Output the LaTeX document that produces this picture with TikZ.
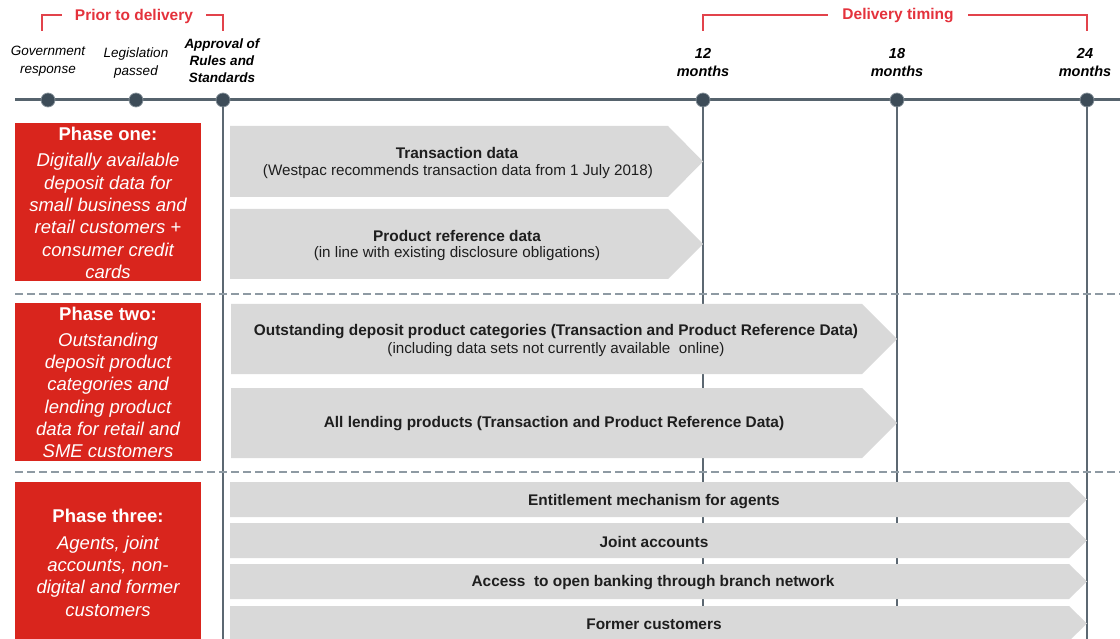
\documentclass[tikz,border=0pt]{standalone}
\usepackage{fontspec}
\setmainfont{Liberation Sans}

\definecolor{phasered}{HTML}{D9251D}
\definecolor{barfill}{HTML}{D9D9D9}
\definecolor{axisgray}{HTML}{56636D}
\definecolor{dotfill}{HTML}{3D4C58}
\definecolor{dotrim}{HTML}{8A959D}
\definecolor{gridgray}{HTML}{5C6872}
\definecolor{sepgray}{HTML}{8E9AA3}
\definecolor{bracketred}{HTML}{E2434B}
\definecolor{labelred}{HTML}{E4323C}
\definecolor{bartext}{HTML}{1E1E1E}

% chevron bar: name, left x, tip x, top y, bottom y, tip length
\newcommand{\chevbar}[6]{%
  \fill[barfill] (#2,#4) -- ({#3-#6},#4) -- (#3,{(#4+#5)/2}) -- ({#3-#6},#5) -- (#2,#5) -- cycle;
  \coordinate (#1) at ({(#2+#3-#6)/2},{(#4+#5)/2});}

\tikzset{
  axis/.style={draw=axisgray, line width=3pt},
  dot/.style={circle, fill=dotfill, draw=dotrim, line width=0.7pt, minimum size=14pt, inner sep=0pt},
  vline/.style={draw=gridgray, line width=1.4pt},
  sep/.style={draw=sepgray, line width=2pt, dash pattern=on 8pt off 4pt},
  bracket/.style={draw=bracketred, line width=1.3pt},
  bracketlabel/.style={text=labelred, font=\fontsize{15.5}{18}\selectfont\bfseries, inner sep=0pt},
  mslabel/.style={font=\fontsize{14.5}{18}\selectfont\bfseries\itshape, align=center, inner sep=0pt},
  steplabel/.style={font=\fontsize{13.5}{18}\selectfont\itshape, align=center, inner sep=0pt},
  approvlabel/.style={font=\fontsize{13.5}{17}\selectfont\bfseries\itshape, align=center, inner sep=0pt},
  phasebox/.style={fill=phasered, inner sep=0pt, minimum width=186pt, anchor=north west},
  phasetitle/.style={text=white, font=\fontsize{18.5}{22}\selectfont\bfseries, inner sep=0pt},
  phasebody/.style={text=white, font=\fontsize{18.5}{22.3}\selectfont\itshape, align=center, inner sep=0pt},
  bartitle/.style={text=bartext, font=\fontsize{15.4}{18}\selectfont\bfseries, inner sep=0pt},
  barnote/.style={text=bartext, font=\fontsize{15.2}{18}\selectfont, inner sep=0pt},
}

\begin{document}
\begin{tikzpicture}[x=1pt, y=-1pt]
\useasboundingbox (0,0) rectangle (1120,639);

% reference points
\coordinate (axisL) at (15,100);
\coordinate (axisR) at (1120,100);
\coordinate (bottom) at (0,639);

% timeline axis
\draw[axis] (axisL) -- (axisR);

% milestones
\node[dot] (gov) at (48,100) {};
\node[dot] (leg) at (136,100) {};
\node[dot] (appr) at (223,100) {};
\node[dot] (m12) at (703,100) {};
\node[dot] (m18) at (897,100) {};
\node[dot] (m24) at (1087,100) {};

% vertical grid lines
\draw[vline] (appr.south) -- (appr |- bottom);
\draw[vline] (m12.south) -- (m12 |- bottom);
\draw[vline] (m18.south) -- (m18 |- bottom);
\draw[vline] (m24.south) -- (m24 |- bottom);

% phase separators
\coordinate (sep1L) at (15,294);
\coordinate (sep1R) at (1120,294);
\coordinate (sep2L) at (15,472);
\coordinate (sep2R) at (1120,472);
\draw[sep] (sep1L) -- (sep1R);
\draw[sep] (sep2L) -- (sep2R);

% brackets
\coordinate (b1a) at (42,31);
\coordinate (b1b) at (42,15);
\coordinate (b1c) at (62,15);
\coordinate (b1d) at (206,15);
\draw[bracket] (b1a) -- (b1b) -- (b1c);
\draw[bracket] (b1d) -- (appr |- b1d) -- (appr |- b1a);
\node[bracketlabel] (prior) at (134,16) {Prior to delivery};

\coordinate (b2c) at (828,15);
\coordinate (b2d) at (968,15);
\draw[bracket] (m12 |- b1a) -- (m12 |- b1b) -- (b2c);
\draw[bracket] (b2d) -- (m24 |- b2d) -- (m24 |- b1a);
\node[bracketlabel] (deliv) at (898,16) {Delivery timing};

% milestone labels
\node[steplabel] (govlab) at (48,61) {Government\\response};
\node[steplabel] (leglab) at (136,63) {Legislation\\passed};
\node[approvlabel] (apprlab) at (222,61) {Approval of\\Rules and\\Standards};
\node[mslabel] (m12lab) at (703,63) {12\\months};
\node[mslabel] (m18lab) at (897,63) {18\\months};
\node[mslabel] (m24lab) at (1085,63) {24\\months};

% phase boxes
\node[phasebox, minimum height=158pt] (p1) at (15,123) {};
\node[phasebox, minimum height=158pt] (p2) at (15,303) {};
\node[phasebox, minimum height=157pt] (p3) at (15,482) {};

\node[phasetitle] (p1t) at (108,133.5) {Phase one:};
\node[phasebody] (p1b) at (108,216) {Digitally available\\deposit data for\\small business and\\retail customers +\\consumer credit\\cards};
\node[phasetitle] (p2t) at (108,313.5) {Phase two:};
\node[phasebody] (p2b) at (108,395.5) {Outstanding\\deposit product\\categories and\\lending product\\data for retail and\\SME customers};
\node[phasetitle] (p3t) at (108,515.5) {Phase three:};
\node[phasebody] (p3b) at (108,576) {Agents, joint\\accounts, non-\\digital and former\\customers};

% phase one bars
\chevbar{bar1}{230}{703}{126}{197}{35}
\chevbar{bar2}{230}{703}{209}{279}{35}
\node[bartitle] (bar1t) at (457,153) {Transaction data};
\node[barnote] (bar1n) at (458,172) {(Westpac recommends transaction data from 1 July 2018)};
\node[bartitle] (bar2t) at (457,236) {Product reference data};
\node[barnote] (bar2n) at (457,254) {(in line with existing disclosure obligations)};

% phase two bars
\chevbar{bar3}{231}{897}{304}{374}{35}
\chevbar{bar4}{231}{897}{388}{458}{35}
\node[bartitle] (bar3t) at (556,332) {Outstanding deposit product categories (Transaction and Product Reference Data)};
\node[barnote] (bar3n) at (556,350) {(including data sets not currently available \ online)};
\node[bartitle] (bar4t) at (554,424) {All lending products (Transaction and Product Reference Data)};

% phase three bars
\chevbar{bar5}{230}{1087}{482}{517}{18}
\chevbar{bar6}{230}{1087}{523}{558}{18}
\chevbar{bar7}{230}{1087}{564}{599}{18}
\chevbar{bar8}{230}{1087}{606}{641}{18}
\node[bartitle] (bar5t) at (654,502) {Entitlement mechanism for agents};
\node[bartitle] (bar6t) at (654,542) {Joint accounts};
\node[bartitle] (bar7t) at (653,583) {Access \ to open banking through branch network};
\node[bartitle] (bar8t) at (654,624) {Former customers};

\end{tikzpicture}
\end{document}
